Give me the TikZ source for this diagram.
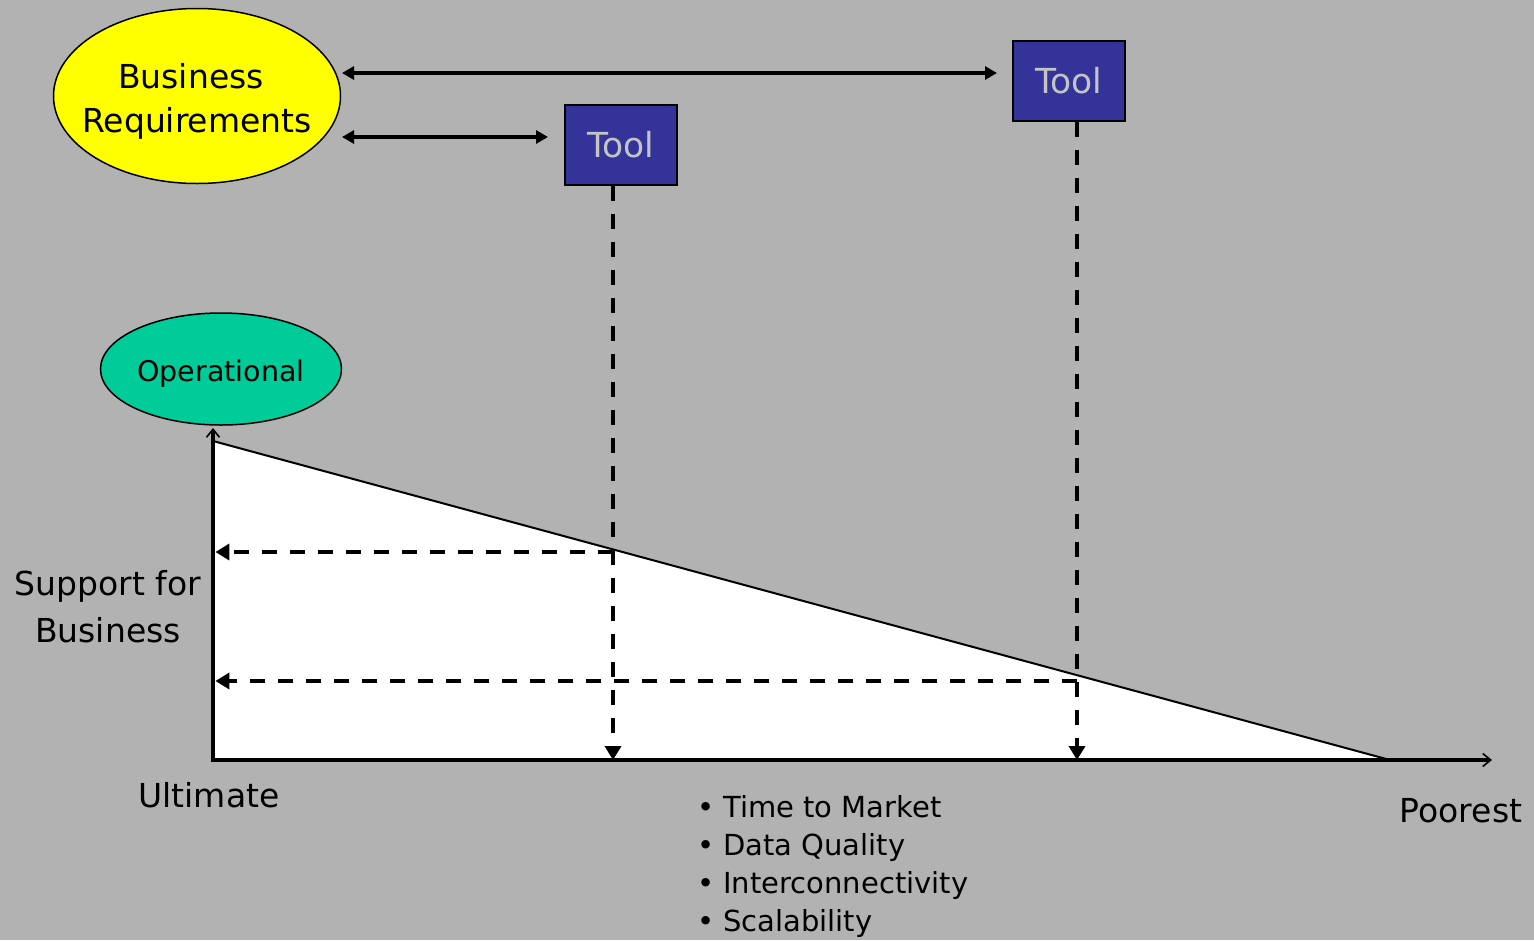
\documentclass[tikz,border=0pt]{standalone}
\usepackage{fontspec}
\setmainfont{DejaVu Sans}
\usetikzlibrary{shapes.geometric,arrows.meta}
\definecolor{bg}{RGB}{178,178,178}
\definecolor{ylw}{RGB}{255,255,0}
\definecolor{grn}{RGB}{0,204,153}
\definecolor{toolblue}{RGB}{51,51,153}
\definecolor{tooltext}{RGB}{196,196,196}
\tikzset{
  bigtext/.style={font=\fontsize{33}{44}\selectfont, inner sep=0pt},
  listtext/.style={font=\fontsize{29}{38}\selectfont, inner sep=0pt, anchor=base west},
  toolbox/.style={draw=black, line width=2.2pt, fill=toolblue, text=tooltext,
    minimum width=112pt, minimum height=80pt, inner sep=0pt, font=\fontsize{34.5}{40}\selectfont},
  dblarrow/.style={line width=4.5pt, {Triangle[length=12pt,width=13pt]}-{Triangle[length=12pt,width=13pt]}},
  dashline/.style={line width=3.5pt, dash pattern=on 15pt off 13pt, -{Triangle[length=14pt,width=16pt]}},
  axisline/.style={line width=4.8pt, -{Straight Barb[line width=1.6pt,length=8pt,width=13pt]}}
}
\begin{document}
\begin{tikzpicture}[x=1pt,y=-1pt]
\useasboundingbox (0,0) rectangle (1534,940);
\fill[bg] (0,0) rectangle (1534,940);

% named points
\coordinate (O) at (213,760);
\coordinate (Ytop) at (213,428);
\coordinate (Xend) at (1492,760);
\coordinate (Tri) at (213,441);
\coordinate (Tri2) at (1390,760);
\coordinate (a1s) at (342,73);
\coordinate (a1e) at (997,73);
\coordinate (a2s) at (342,137);
\coordinate (a2e) at (548,137);
\coordinate (h1) at (213,552);
\coordinate (h2) at (213,681);

% white triangle
\fill[white] (Tri) -- (Tri2) -- (O) -- cycle;
\draw[line width=2pt] (Tri) -- (Tri2);

% ellipses
\node[ellipse, draw=black, line width=1.5pt, fill=ylw, minimum width=287pt, minimum height=175pt, inner sep=0pt] (br) at (197,96) {};
\node[bigtext, anchor=base] (brt1) at (191,88) {Business};
\node[bigtext, anchor=base] (brt2) at (197,132) {Requirements};

\node[ellipse, draw=black, line width=1.5pt, fill=grn, minimum width=241pt, minimum height=112pt, inner sep=0pt] (op) at (221,369) {};
\node[font=\fontsize{28.5}{34}\selectfont, inner sep=0pt, anchor=base] (opt) at (221,381) {Operational};

% tools
\node[toolbox] (t1) at (621,145) {Tool};
\node[toolbox] (t2) at (1069,81) {Tool};

% top arrows
\draw[dblarrow] (a1s) -- (a1e);
\draw[dblarrow] (a2s) -- (a2e);

% axes
\draw[axisline] (O) -- (Ytop);
\draw[axisline] ([xshift=-2.4pt]O) -- (Xend);

% dashed projections
\coordinate (v1top) at ([xshift=-8pt]t1.south);
\coordinate (v2top) at ([xshift=8pt]t2.south);
\coordinate (c1) at (v1top |- h1);
\coordinate (c2) at (v2top |- h2);
\draw[dashline] (v1top) -- (v1top |- O);
\draw[dashline] (v2top) -- (v2top |- O);
\draw[dashline] (c1) -- ([xshift=2.4pt]h1);
\draw[dashline] (c2) -- ([xshift=2.4pt]h2);

% labels
\node[bigtext, anchor=base] (sup1) at (108,595) {Support for};
\node[bigtext, anchor=base] (sup2) at (108,642) {Business};
\node[bigtext, anchor=base] (ult) at (209,807) {Ultimate};
\node[bigtext, anchor=base] (poor) at (1461,822) {Poorest};

\node[listtext] (b1) at (697,817) {•\hspace{9pt}Time to Market};
\node[listtext] (b2) at (697,855) {•\hspace{9pt}Data Quality};
\node[listtext] (b3) at (697,893) {•\hspace{9pt}Interconnectivity};
\node[listtext] (b4) at (697,931) {•\hspace{9pt}Scalability};
\end{tikzpicture}
\end{document}
